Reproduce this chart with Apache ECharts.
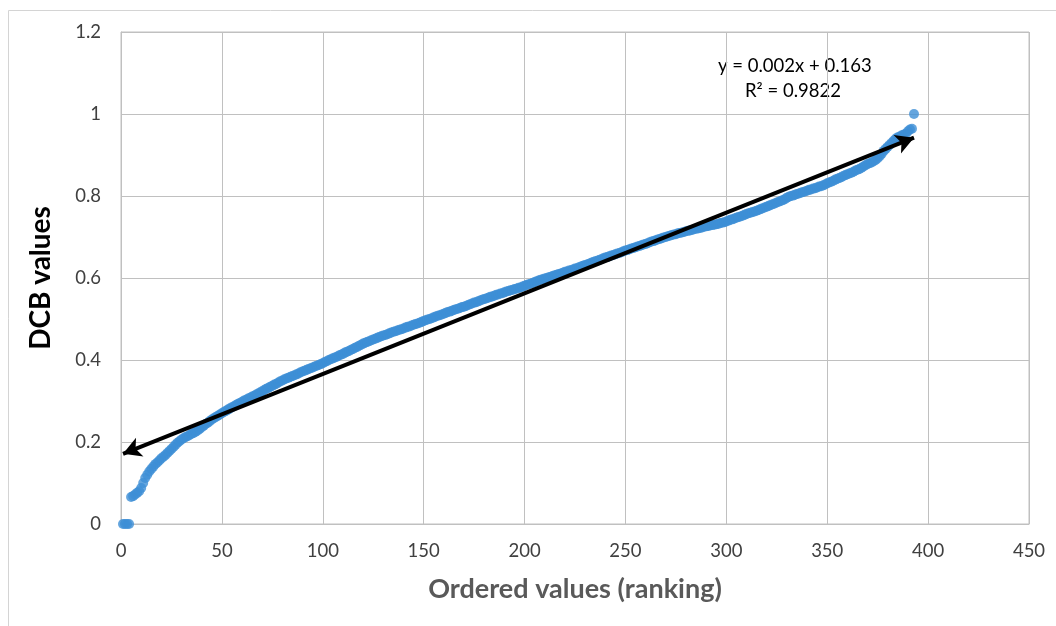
<!DOCTYPE html>
<html>
<head>
<meta charset="utf-8">
<script src="https://cdn.jsdelivr.net/npm/echarts@6/dist/echarts.min.js"></script>
<style>
html,body{margin:0;padding:0;background:#fff;}
#chart{width:1056px;height:626px;}
</style>
</head>
<body>
<div id="chart"></div>
<script>
// DCB values, ordered by rank (rank = index + 1)
const dcbValues = [
0,0,0,0,0.066,0.068,0.072,0.076,0.080,0.088,
0.100,0.112,0.120,0.128,0.134,0.140,0.146,0.150,0.155,0.160,
0.164,0.168,0.173,0.178,0.183,0.188,0.193,0.198,0.202,0.206,
0.209,0.212,0.214,0.217,0.220,0.222,0.225,0.228,0.232,0.236,
0.240,0.244,0.247,0.251,0.255,0.258,0.261,0.264,0.267,0.270,
0.273,0.276,0.279,0.282,0.285,0.287,0.290,0.293,0.295,0.298,
0.301,0.303,0.306,0.308,0.311,0.313,0.316,0.318,0.321,0.324,
0.327,0.330,0.332,0.335,0.337,0.340,0.342,0.345,0.348,0.350,
0.353,0.355,0.357,0.359,0.361,0.363,0.365,0.367,0.370,0.372,
0.374,0.376,0.378,0.380,0.382,0.384,0.386,0.388,0.390,0.392,
0.395,0.397,0.400,0.402,0.404,0.406,0.408,0.411,0.413,0.415,
0.418,0.420,0.422,0.425,0.427,0.430,0.432,0.435,0.437,0.440,
0.442,0.444,0.446,0.448,0.450,0.452,0.454,0.456,0.458,0.460,
0.461,0.463,0.465,0.467,0.469,0.470,0.472,0.474,0.475,0.477,
0.479,0.481,0.482,0.484,0.486,0.488,0.489,0.491,0.493,0.495,
0.497,0.499,0.500,0.502,0.504,0.506,0.508,0.509,0.511,0.513,
0.515,0.517,0.518,0.520,0.522,0.524,0.525,0.527,0.529,0.530,
0.532,0.534,0.536,0.538,0.540,0.541,0.543,0.545,0.547,0.549,
0.550,0.552,0.554,0.555,0.557,0.559,0.560,0.562,0.563,0.565,
0.567,0.568,0.570,0.571,0.573,0.574,0.576,0.577,0.579,0.581,
0.583,0.585,0.586,0.588,0.590,0.592,0.594,0.596,0.597,0.599,
0.600,0.602,0.603,0.605,0.607,0.608,0.610,0.611,0.613,0.615,
0.616,0.618,0.619,0.621,0.623,0.624,0.626,0.628,0.630,0.632,
0.633,0.635,0.637,0.639,0.641,0.642,0.644,0.646,0.648,0.650,
0.651,0.653,0.655,0.656,0.658,0.660,0.661,0.663,0.665,0.667,
0.668,0.670,0.672,0.673,0.675,0.677,0.678,0.680,0.682,0.683,
0.685,0.687,0.689,0.690,0.692,0.694,0.695,0.697,0.699,0.700,
0.702,0.703,0.705,0.706,0.707,0.709,0.710,0.711,0.712,0.714,
0.715,0.716,0.717,0.719,0.720,0.721,0.722,0.723,0.725,0.726,
0.727,0.728,0.729,0.730,0.731,0.732,0.734,0.735,0.736,0.738,
0.740,0.742,0.743,0.745,0.747,0.749,0.750,0.752,0.754,0.756,
0.758,0.759,0.761,0.762,0.764,0.766,0.768,0.770,0.772,0.774,
0.776,0.778,0.780,0.782,0.784,0.786,0.788,0.790,0.792,0.796,
0.798,0.800,0.801,0.803,0.805,0.806,0.808,0.810,0.811,0.813,
0.815,0.816,0.818,0.819,0.821,0.823,0.824,0.826,0.828,0.831,
0.833,0.835,0.837,0.840,0.842,0.844,0.846,0.849,0.851,0.853,
0.855,0.857,0.859,0.862,0.864,0.866,0.869,0.872,0.875,0.878,
0.880,0.882,0.885,0.888,0.892,0.897,0.903,0.910,0.915,0.920,
0.925,0.930,0.935,0.940,0.943,0.945,0.948,0.950,0.952,0.958,
0.962,0.964,1.000
];
const xTicks = [0, 50, 100, 150, 200, 250, 300, 350, 400, 450];
const yTicks = [0, 0.2, 0.4, 0.6, 0.8, 1, 1.2];
const equationText = 'y = 0.002x + 0.163';
const r2Text = 'R² = 0.9822';
const xTitle = 'Ordered values (ranking)';
const yTitle = 'DCB values';

const points = dcbValues.map((v, i) => [i + 1, v]);

// least-squares linear trend computed from the data
const n = points.length;
let sx = 0, sy = 0, sxx = 0, sxy = 0;
points.forEach(([x, y]) => { sx += x; sy += y; sxx += x * x; sxy += x * y; });
const slope = (n * sxy - sx * sy) / (n * sxx - sx * sx);
const intercept = (sy - slope * sx) / n;
const xStart = points[0][0], xEnd = points[n - 1][0];

const font = 'Lato, "Open Sans", "Liberation Sans", sans-serif';

const chart = echarts.init(document.getElementById('chart'), null, {renderer: 'canvas'});
chart.setOption({
  animation: false,
  backgroundColor: '#ffffff',
  grid: {left: 121, right: 27, top: 32, bottom: 102, show: true, borderColor: '#c0c0c0', borderWidth: 1},
  xAxis: {
    type: 'value', min: xTicks[0], max: xTicks[xTicks.length - 1], interval: xTicks[1] - xTicks[0],
    axisLine: {show: true, lineStyle: {color: '#c0c0c0'}},
    axisTick: {show: false},
    splitLine: {show: true, lineStyle: {color: '#c0c0c0', width: 1}},
    axisLabel: {color: '#404040', fontSize: 18.5, fontFamily: font, margin: 18},
    name: xTitle, nameLocation: 'middle', nameGap: 52,
    nameTextStyle: {color: '#595959', fontSize: 27, fontWeight: 'bold', fontFamily: font}
  },
  yAxis: {
    type: 'value', min: yTicks[0], max: yTicks[yTicks.length - 1], interval: 0.2,
    axisLine: {show: true, lineStyle: {color: '#c0c0c0'}},
    axisTick: {show: false},
    splitLine: {show: true, lineStyle: {color: '#c0c0c0', width: 1}},
    axisLabel: {color: '#404040', fontSize: 18.5, fontFamily: font, margin: 20},
    name: yTitle, nameLocation: 'middle', nameGap: 66, nameRotate: 90,
    nameTextStyle: {color: '#000000', fontSize: 28, fontWeight: 'bold', fontFamily: font}
  },
  series: [
    {
      type: 'scatter',
      data: points,
      symbol: 'circle',
      symbolSize: 10,
      itemStyle: {color: '#3d8fd6'},
      z: 2
    },
    {
      type: 'line',
      data: [],
      z: 3,
      markLine: {
        silent: true,
        symbol: ['arrow', 'arrow'],
        symbolSize: [15, 18],
        label: {show: false},
        lineStyle: {color: '#000000', width: 4, type: 'solid'},
        data: [[
          {coord: [xStart, intercept + slope * xStart]},
          {coord: [xEnd, intercept + slope * xEnd]}
        ]]
      }
    }
  ],
  graphic: [
    {type: 'rect', shape: {x: 8.5, y: 10.5, width: 1100, height: 700}, style: {fill: 'none', stroke: '#d4d4d4', lineWidth: 1}, silent: true, z: -1},
    {type: 'text', left: 718, top: 57, style: {text: equationText, fill: '#000000', font: '18.5px ' + font}},
    {type: 'text', left: 745, top: 82, style: {text: r2Text, fill: '#000000', font: '18.5px ' + font}}
  ]
});
</script>
</body>
</html>
